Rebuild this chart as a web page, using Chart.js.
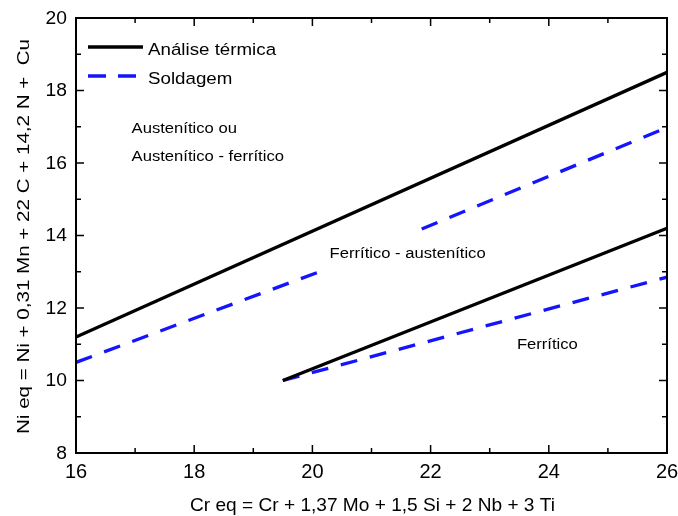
<!DOCTYPE html>
<html>
<head>
<meta charset="utf-8">
<script src="https://cdn.jsdelivr.net/npm/chart.js@4.4.1/dist/chart.umd.min.js"></script>
<style>
  html, body { margin: 0; padding: 0; background: #fff; }
  #wrap { width: 678px; height: 516px; position: relative; }
</style>
</head>
<body>
<div id="wrap"><canvas id="chart" width="678" height="516"></canvas></div>
<script>
// Data (Cr eq on x, Ni eq on y)
const termicaSuperior = [{x: 16, y: 11.2}, {x: 26, y: 18.5}];
const termicaInferior = [{x: 19.5, y: 10.0}, {x: 26, y: 14.2}];
// upper welding line is broken where the region label sits
const soldagemSuperior = [{x: 16, y: 10.5}, {x: 20.2, y: 13.05}, {x: 21.0, y: null}, {x: 21.85, y: 14.18}, {x: 26, y: 16.98}];
const soldagemInferior = [{x: 19.5, y: 10.0}, {x: 26, y: 12.85}];

const xTicks = [16, 18, 20, 22, 24, 26];
const yTicks = [8, 10, 12, 14, 16, 18, 20];

const xTitle = 'Cr eq = Cr + 1,37 Mo + 1,5 Si + 2 Nb + 3 Ti';
const yTitle = 'Ni eq = Ni + 0,31 Mn + 22 C + 14,2 N +  Cu';

const regionLabels = [
    {text: 'Austenítico ou', x: 16.94, y: 16.84},
    {text: 'Austenítico - ferrítico', x: 16.94, y: 16.06},
    {text: 'Ferrítico - austenítico', x: 20.29, y: 13.37},
    {text: 'Ferrítico', x: 23.46, y: 10.88}
];

const FONT = '"Liberation Sans", Arial, sans-serif';
const BLUE = '#1414ff';
const DASH = [17, 13];

// draws text slightly widened, like the original export
function drawText(ctx, text, x, y, size, opts) {
    opts = opts || {};
    ctx.save();
    ctx.translate(x, y);
    if (opts.rotate) ctx.rotate(opts.rotate);
    ctx.font = size + 'px ' + FONT;
    let sx = opts.sx || 1;
    if (opts.width) sx = opts.width / ctx.measureText(text).width;
    ctx.scale(sx, 1);
    ctx.textAlign = opts.align || 'left';
    ctx.textBaseline = 'alphabetic';
    ctx.fillStyle = '#000';
    ctx.fillText(text, 0, 0);
    ctx.restore();
}

// --- frame, inward ticks, labels, legend ---
const decorPlugin = {
    id: 'decor',
    afterDatasetsDraw(chart) {
        const ctx = chart.ctx;
        const area = chart.chartArea;
        const xs = chart.scales.x;
        const ys = chart.scales.y;

        ctx.save();
        ctx.strokeStyle = '#000';
        ctx.lineWidth = 2;
        ctx.strokeRect(area.left, area.top, area.right - area.left, area.bottom - area.top);

        ctx.lineWidth = 1.5;
        ctx.beginPath();
        for (let v = xs.min; v <= xs.max; v += 1) {
            const px = xs.getPixelForValue(v);
            const len = (v % 2 === 0) ? 8 : 5;
            ctx.moveTo(px, area.bottom); ctx.lineTo(px, area.bottom - len);
            ctx.moveTo(px, area.top); ctx.lineTo(px, area.top + len);
        }
        for (let v = ys.min; v <= ys.max; v += 1) {
            const py = ys.getPixelForValue(v);
            const len = (v % 2 === 0) ? 8 : 5;
            ctx.moveTo(area.left, py); ctx.lineTo(area.left + len, py);
            ctx.moveTo(area.right, py); ctx.lineTo(area.right - len, py);
        }
        ctx.stroke();
        ctx.restore();

        // tick labels
        xTicks.forEach(function(v) {
            drawText(ctx, String(v), xs.getPixelForValue(v), area.bottom + 24.5, 20, {align: 'center'});
        });
        yTicks.forEach(function(v) {
            drawText(ctx, String(v), area.left - 9, ys.getPixelForValue(v) + 5.5, 17.5, {align: 'right', sx: 1.1});
        });

        // axis titles
        drawText(ctx, xTitle, (area.left + area.right) / 2 + 1, area.bottom + 57.5, 18.5, {align: 'center', width: 365});
        drawText(ctx, yTitle, 28.5, (area.top + area.bottom) / 2 + 1, 17, {align: 'center', width: 395, rotate: -Math.PI / 2});

        // region labels
        regionLabels.forEach(function(l) {
            drawText(ctx, l.text, xs.getPixelForValue(l.x), ys.getPixelForValue(l.y), 15.4, {sx: 1.08});
        });

        // legend (one entry per label)
        const seen = {};
        let row = 0;
        chart.data.datasets.forEach(function(ds) {
            if (seen[ds.label]) return;
            seen[ds.label] = true;
            const y = area.top + 29 + row * 29;
            const x0 = area.left + 12;
            ctx.save();
            ctx.beginPath();
            ctx.strokeStyle = ds.borderColor;
            ctx.lineWidth = ds.borderWidth;
            ctx.setLineDash(ds.borderDash.length ? [18, 12] : []);
            ctx.moveTo(x0, y);
            ctx.lineTo(x0 + 55, y);
            ctx.stroke();
            ctx.restore();
            drawText(ctx, ds.label, x0 + 60, y + 7.5, 17.2, {sx: 1.09});
            row++;
        });
    }
};

function lineSet(label, data, color, dash) {
    return {
        label: label,
        data: data,
        showLine: true,
        borderColor: color,
        backgroundColor: color,
        borderWidth: 3.3,
        borderDash: dash,
        pointRadius: 0,
        spanGaps: false,
        tension: 0
    };
}

const ctx = document.getElementById('chart').getContext('2d');
new Chart(ctx, {
    type: 'scatter',
    data: {
        datasets: [
            lineSet('Análise térmica', termicaSuperior, '#000', []),
            lineSet('Análise térmica', termicaInferior, '#000', []),
            lineSet('Soldagem', soldagemSuperior, BLUE, DASH),
            lineSet('Soldagem', soldagemInferior, BLUE, DASH)
        ]
    },
    options: {
        responsive: false,
        animation: false,
        layout: { padding: { top: 18, right: 11, left: 0, bottom: 0 } },
        plugins: {
            legend: { display: false },
            tooltip: { enabled: false }
        },
        scales: {
            x: {
                type: 'linear',
                min: 16, max: 26,
                afterFit: function(scale) { scale.height = 63; },
                grid: { display: false, drawTicks: false },
                border: { display: false },
                ticks: { display: false }
            },
            y: {
                type: 'linear',
                min: 8, max: 20,
                afterFit: function(scale) { scale.width = 76; },
                grid: { display: false, drawTicks: false },
                border: { display: false },
                ticks: { display: false }
            }
        }
    },
    plugins: [decorPlugin]
});
</script>
</body>
</html>
